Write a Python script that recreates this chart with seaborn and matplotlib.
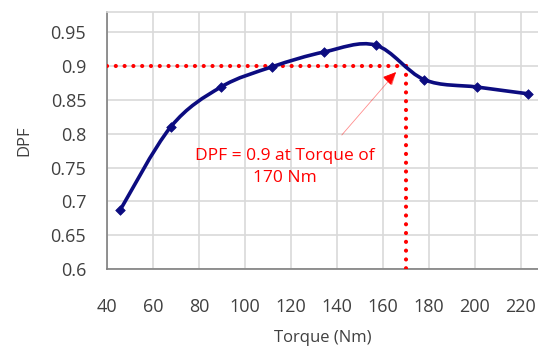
import numpy as np
import matplotlib
matplotlib.use("Agg")
import matplotlib.pyplot as plt
from matplotlib.path import Path
from matplotlib.patches import PathPatch
import seaborn as sns

# Data
torque = [45.7, 67.7, 89.5, 111.8, 134.5, 156.8, 177.9, 201.0, 223.2]
dpf = [0.687, 0.810, 0.869, 0.899, 0.921, 0.931, 0.880, 0.869, 0.859]
x_ticks = [40, 60, 80, 100, 120, 140, 160, 180, 200, 220]
y_ticks = [0.6, 0.65, 0.7, 0.75, 0.8, 0.85, 0.9, 0.95]
y_tick_labels = ["0.6", "0.65", "0.7", "0.75", "0.8", "0.85", "0.9", "0.95"]
target_dpf = 0.9
target_torque = 170
note = "DPF = 0.9 at Torque of\n170 Nm"

sns.set_style("whitegrid")
plt.rcParams['font.family'] = ['Open Sans', 'DejaVu Sans']

fig = plt.figure(figsize=(5.38, 3.51), dpi=100)
ax = fig.add_axes([107 / 538, 1 - 269 / 351, 431 / 538, 257 / 351])

# Smooth line like Excel's "smoothed line" (Catmull-Rom as Bezier segments)
pts = np.column_stack([torque, dpf])
verts = [tuple(pts[0])]
codes = [Path.MOVETO]
for i in range(len(pts) - 1):
    p0 = pts[i - 1] if i > 0 else pts[i]
    p1 = pts[i]
    p2 = pts[i + 1]
    p3 = pts[i + 2] if i + 2 < len(pts) else pts[i + 1]
    c1 = p1 + (p2 - p0) / 6
    c2 = p2 - (p3 - p1) / 6
    verts += [tuple(c1), tuple(c2), tuple(p2)]
    codes += [Path.CURVE4] * 3
ax.add_patch(PathPatch(Path(verts, codes), fill=False, edgecolor='#0c0c80',
                       linewidth=2.6, capstyle='round', joinstyle='round', zorder=4))

sns.scatterplot(x=torque, y=dpf, marker='D', s=24, color='#0c0c80',
                edgecolor='#0c0c80', linewidth=0.5, zorder=5, ax=ax)

# Red dotted guide lines
dots = (0, (0.01, 2.1))
ax.plot([40, target_torque], [target_dpf, target_dpf], color='#ff0000',
        linewidth=3.0, linestyle=dots, dash_capstyle='round', zorder=3)
ax.plot([target_torque, target_torque], [target_dpf, 0.6], color='#ff0000',
        linewidth=3.0, linestyle=dots, dash_capstyle='round', zorder=3)

# Annotation
ax.annotate('', xy=(166.5, 0.894), xytext=(141.3, 0.795),
            arrowprops=dict(arrowstyle='-|>,head_length=0.8,head_width=0.35',
                            color='#ff0000', lw=0.6, alpha=0.45), zorder=6)
ax.annotate('', xy=(166.5, 0.894), xytext=(163.5, 0.884),
            arrowprops=dict(arrowstyle='-|>,head_length=0.8,head_width=0.35',
                            color='#ff0000', lw=0.6), zorder=6)
ax.text(117.4, 0.751, note, color='#ff0000', fontsize=12.5, ha='center',
        va='center', linespacing=1.45, zorder=6)

ax.set_xlim(40, 227.4)
ax.set_ylim(0.6, 0.98)
ax.set_xticks(x_ticks)
ax.set_yticks(y_ticks)
ax.set_yticklabels(y_tick_labels)
ax.tick_params(axis='both', labelsize=13, labelcolor='#404040', colors='#404040')
ax.tick_params(axis='x', direction='in', length=4, width=1, color='#808080', pad=21)
ax.tick_params(axis='y', length=0, pad=15)
ax.grid(True, color='#d9d9d9', linewidth=1.2)

for side in ['left', 'bottom']:
    ax.spines[side].set_color('#7f7f7f')
    ax.spines[side].set_linewidth(1.2)
ax.spines['top'].set_color('#d9d9d9')
ax.spines['top'].set_linewidth(1.2)
ax.spines['right'].set_visible(False)

ax.set_xlabel('Torque (Nm)', fontsize=12, color='#404040', labelpad=10)
ax.set_ylabel('DPF', fontsize=12, color='#404040', labelpad=13)

fig.savefig('out.png', dpi=100)
